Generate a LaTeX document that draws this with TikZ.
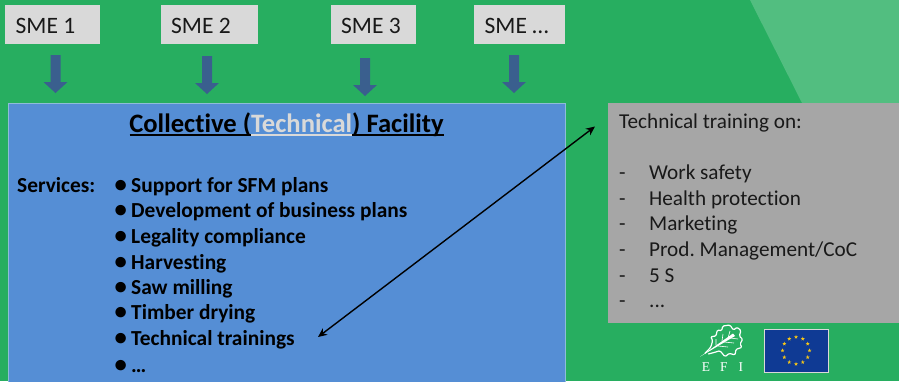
\documentclass[tikz,border=0pt]{standalone}
\usepackage{fontspec}
\setmainfont[Ligatures=NoCommon]{Carlito}
\newfontfamily\efifont{Liberation Serif}
\usetikzlibrary{arrows.meta,shapes.geometric}
\definecolor{bggreen}{HTML}{27AE60}
\definecolor{lightgreen}{HTML}{52BE80}
\definecolor{smegray}{HTML}{D9D9D9}
\definecolor{facblue}{HTML}{558ED5}
\definecolor{facedge}{HTML}{8FBCD8}
\definecolor{arrblue}{HTML}{3A5F8E}
\definecolor{traingray}{HTML}{A6A6A6}
\definecolor{techgray}{HTML}{D9D9D9}
\definecolor{eublue}{HTML}{0F3A94}
\definecolor{eustar}{HTML}{F5C518}
\tikzset{
  smelbl/.style={inner sep=0pt,anchor=base west,font=\fontsize{23.5}{23.5}\selectfont,text=black!90},
  lbl/.style={inner sep=0pt,anchor=base west,font=\fontsize{21.2}{21.2}\selectfont\frenchspacing,text=black!90},
  bul/.style={inner sep=0pt,anchor=base west,font=\fontsize{21.4}{21.4}\selectfont\bfseries,text=black},
}
\newcommand{\dnarrow}[2]{\fill[arrblue] (#1-5,#2) -- (#1+5,#2) -- (#1+5,#2+27) -- (#1+12,#2+27) -- (#1,#2+38) -- (#1-12,#2+27) -- (#1-5,#2+27) -- cycle;}
\newcommand{\bitem}[1]{\makebox[16.5pt][l]{\raisebox{-0.4pt}{\scalebox{1.15}{\textbullet}}}#1}
\begin{document}
\begin{tikzpicture}[x=1pt,y=-1pt]
\useasboundingbox (0,0) rectangle (899,381);
\fill[bggreen] (0,0) rectangle (899,381);
\fill[lightgreen] (750,0) -- (899,0) -- (899,103) -- (802,103) -- cycle;
% SME boxes
\fill[smegray] (5,5) rectangle (100,44);
\node[smelbl] (s1) at (15.5,33) {SME 1};
\fill[smegray] (161,5) rectangle (258,44);
\node[smelbl] (s2) at (171,33) {SME 2};
\fill[smegray] (331,5) rectangle (416,44);
\node[smelbl] (s3) at (341,33) {SME 3};
\fill[smegray] (474,5) rectangle (565,44);
\node[smelbl] (s4) at (484.5,33) {SME …};
\dnarrow{55.5}{55}
\dnarrow{207}{56}
\dnarrow{365}{58}
\dnarrow{514}{55}
% facility
\begin{scope}
\clip (0,0) rectangle (899,381);
\node[draw=facedge,fill=facblue,line width=1pt,inner sep=0pt,anchor=north west,minimum width=557pt,minimum height=290pt] (fac) at (8,103) {};
\end{scope}
\node[inner sep=0pt,anchor=base,font=\fontsize{26.6}{26.6}\selectfont\bfseries] (title) at (286.5,132) {Collective (\textcolor{techgray}{Technical}) Facility};
\draw[black,line width=1.3pt] (129.5,135) -- (251,135);
\draw[techgray,line width=1.3pt] (251,135) -- (352,135);
\draw[black,line width=1.3pt] (352,135) -- (444,135);
\node[bul] (serv) at (17,192) {Services:};
\node[bul] (b1) at (114.5,192) {\bitem{Support for SFM plans}};
\node[bul] (b2) at (114.5,217) {\bitem{Development of business plans}};
\node[bul] (b3) at (114.5,243) {\bitem{Legality compliance}};
\node[bul] (b4) at (114.5,269) {\bitem{Harvesting}};
\node[bul] (b5) at (114.5,294) {\bitem{Saw milling}};
\node[bul] (b6) at (114.5,319) {\bitem{Timber drying}};
\node[bul] (b7) at (114.5,345) {\bitem{Technical trainings}};
\node[bul] (b8) at (114.5,372) {\bitem{…}};
% training box
\node[fill=traingray,inner sep=0pt,anchor=north west,minimum width=291pt,minimum height=220pt] (tr) at (608,103) {};
\node[lbl] (t0) at (619,128) {Technical training on:};
\node[lbl] (da) at (619,179) {-};
\node[lbl] (ta) at (649,179) {Work safety};
\node[lbl] (db) at (619,205) {-};
\node[lbl] (tb) at (649,205) {Health protection};
\node[lbl] (dc) at (619,230) {-};
\node[lbl] (tc) at (649,230) {Marketing};
\node[lbl] (dd) at (619,256) {-};
\node[lbl] (td) at (649,256) {Prod. Management/CoC};
\node[lbl] (de) at (619,282) {-};
\node[lbl] (te) at (649,282) {5 S};
\node[lbl] (df) at (619,307) {-};
\node[lbl] (tf) at (649,307) {...};
% double arrow
\coordinate (p1) at (318,337);
\coordinate (p2) at (595,126.5);
\draw[black,line width=1.4pt,{Stealth[length=9pt,width=8pt]}-{Stealth[length=9pt,width=8pt]}] (p1) -- (p2);
% EFI logo
\draw[white,line width=1.2pt,line join=round,rounded corners=1.2pt] (705,353.3) -- (710.7,347.3) -- (712.7,340.7) -- (710.7,336.7) -- (716,336) -- (717.3,330) -- (721.7,330.7) -- (722.7,326) -- (730,325) -- (733.3,330) -- (737.3,327.3) -- (741,330.7) -- (739.3,336) -- (742.7,339.3) -- (740,344) -- (742,347.3) -- (736,349.3) -- (735,355) -- (729.3,353.3) -- (725,356.7) -- (720,350.7) -- (713.3,352.7) -- (708.3,354);
\fill[white] (700,356.7) -- (733,333.5) -- (735,336) -- cycle;
\draw[white,line width=.6pt] (716,345) -- (716,339) (722,341) -- (723,334) (728,338) -- (730,331) (718,346) -- (728,347) (724,342) -- (734,343) (730,338) -- (738,339);
\node[inner sep=0pt,text=white,anchor=base,font=\efifont\fontsize{13.5}{13.5}\selectfont] (efi) at (722.5,371) {E\hspace{10pt}F\hspace{11pt}I};
% EU flag
\node[draw=smegray,fill=eublue,line width=1pt,inner sep=0pt,minimum width=64pt,minimum height=43pt] (eu) at (796,350.5) {};
\foreach \a in {0,30,...,330}{
  \node[star,star points=5,star point ratio=2.4,fill=eustar,draw=none,inner sep=0pt,minimum size=4.2pt] (st\a) at ([shift={(\a:13.5pt)}]eu.center) {};
}
\end{tikzpicture}
\end{document}
